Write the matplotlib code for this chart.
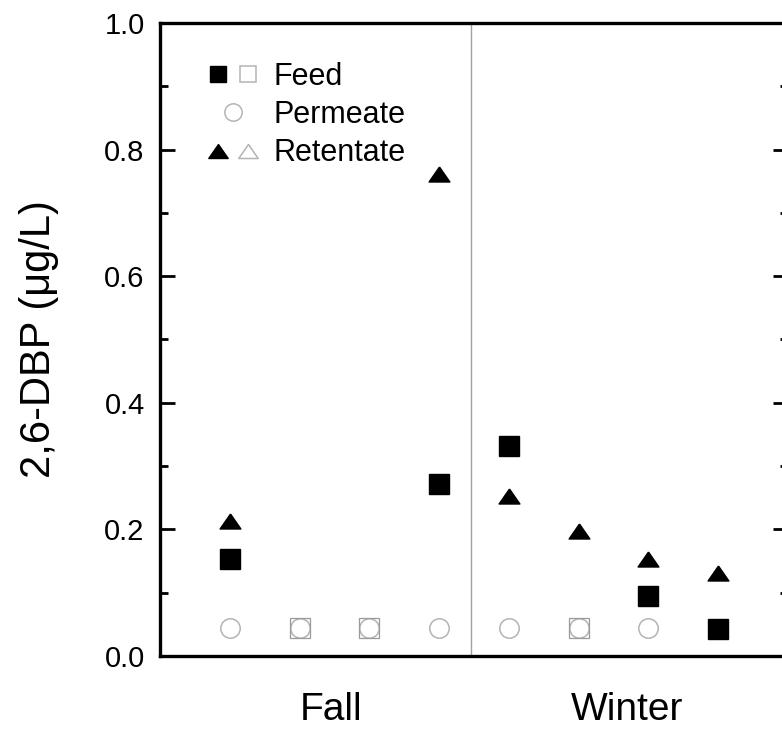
import matplotlib.pyplot as plt
from matplotlib.legend_handler import HandlerTuple
from matplotlib.lines import Line2D
from matplotlib.ticker import MultipleLocator

plt.rcParams['font.family'] = ['Liberation Sans', 'DejaVu Sans']

# sampling events, four per season
sample = [1, 2, 3, 4, 5, 6, 7, 8]
seasons = ["Fall", "Winter"]
season_pos = [2.45, 6.7]
season_split = 4.45

# 2,6-DBP concentrations (ug/L); open markers = below detection limit
feed_x = [1, 4, 5, 7, 8]
feed_y = [0.154, 0.272, 0.331, 0.094, 0.043]
feed_nd_x = [2, 3, 6]
feed_nd_y = [0.044, 0.044, 0.044]
perm_x = [1, 2, 3, 4, 5, 6, 7]
perm_y = [0.044, 0.044, 0.044, 0.044, 0.044, 0.044, 0.044]
ret_x = [1, 4, 5, 6, 7, 8]
ret_y = [0.214, 0.761, 0.252, 0.197, 0.154, 0.131]

GREY = '#b4b4b4'
TRI = [(0, 0.72), (-1, -0.72), (1, -0.72), (0, 0.72)]

fig = plt.figure(figsize=(7.82, 7.31), dpi=100)
ax = fig.add_axes([160 / 782, 75 / 731, 628 / 782, 633 / 731])

ax.axvline(season_split, color='#a0a0a0', lw=1.0, zorder=1)

ax.plot(perm_x, perm_y, 'o', ms=14, mfc='none', mec=GREY, mew=1.1, ls='none', zorder=3)
ax.plot(feed_nd_x, feed_nd_y, 's', ms=14, mfc='none', mec='#9a9a9a', mew=0.9, ls='none', zorder=3)
ax.plot(feed_x, feed_y, 's', ms=14, color='black', ls='none', zorder=4)
ax.plot(ret_x, ret_y, marker=TRI, ms=15, color='black', ls='none', zorder=4)

ax.set_xlim(0, 9)
ax.set_ylim(0, 1.0)
ax.set_xticks(season_pos)
ax.set_xticklabels(seasons, fontsize=28)
ax.tick_params(axis='x', length=0, pad=26)

ax.yaxis.set_major_locator(MultipleLocator(0.2))
ax.yaxis.set_minor_locator(MultipleLocator(0.1))
ax.yaxis.set_major_formatter(lambda v, p: f"{v:.1f}")
ax.tick_params(axis='y', which='major', direction='in', length=11, width=2.0,
               labelsize=21, pad=11, right=True)
ax.tick_params(axis='y', which='minor', direction='in', length=6, width=2.0, right=True)
ax.set_ylabel("2,6-DBP (\u03bcg/L)", fontsize=30, labelpad=33)

for s in ax.spines.values():
    s.set_linewidth(2.4)

# legend
h_feed = Line2D([], [], marker='s', ms=11, color='black', ls='none')
h_feed_nd = Line2D([], [], marker='s', ms=11, mfc='none', mec=GREY, mew=1.1, ls='none')
h_perm = Line2D([], [], marker='o', ms=12.5, mfc='none', mec=GREY, mew=1.1, ls='none')
h_ret = Line2D([], [], marker=TRI, ms=14, color='black', ls='none')
h_ret_nd = Line2D([], [], marker=TRI, ms=14, mfc='none', mec=GREY, mew=1.1, ls='none')
ax.legend([(h_feed, h_feed_nd), h_perm, (h_ret, h_ret_nd)],
          ["Feed", "Permeate", "Retentate"],
          handler_map={tuple: HandlerTuple(ndivide=None, pad=0.27)},
          loc='upper left', bbox_to_anchor=(0.055, 0.958), frameon=False,
          fontsize=22, handlelength=1.73, handletextpad=0.45, labelspacing=0.27,
          borderaxespad=0)

fig.savefig("out.png", dpi=100)
